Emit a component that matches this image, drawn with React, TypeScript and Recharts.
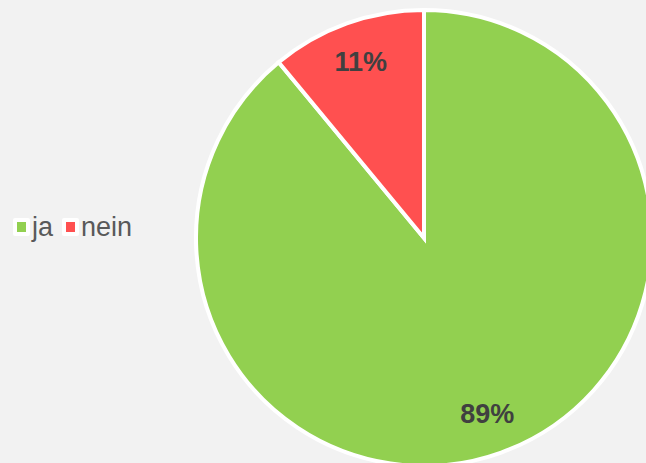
import React from "react";
import { PieChart, Pie, Cell } from "recharts";

const categories = ["ja", "nein"];
const values = [89, 11];
const colors = ["#92d050", "#ff5050"];

const data = categories.map((name, i) => ({ name, value: values[i] }));

const RADIAN = Math.PI / 180;

const renderLabel = (props: any) => {
  const { cx, cy, midAngle, outerRadius, percent } = props;
  const r = outerRadius * 0.82;
  const x = cx + r * Math.cos(-midAngle * RADIAN);
  const y = cy + r * Math.sin(-midAngle * RADIAN);
  return (
    <text
      x={x}
      y={y}
      fill="#404040"
      textAnchor="middle"
      dominantBaseline="central"
      fontFamily="Liberation Sans, Arial, sans-serif"
      fontWeight="bold"
      fontSize={27}
    >
      {`${Math.round(percent * 100)}%`}
    </text>
  );
};

export default function App() {
  return (
    <div style={{ position: "absolute", left: 0, top: 0, width: 646, height: 463, background: "#f2f2f2", overflow: "hidden" }}>
      <PieChart width={646} height={463} margin={{ top: 0, right: 0, bottom: 0, left: 0 }}>
        <Pie
          data={data}
          dataKey="value"
          nameKey="name"
          cx={424}
          cy={238}
          outerRadius={228}
          startAngle={90}
          endAngle={-270}
          stroke="#ffffff"
          strokeWidth={4}
          label={renderLabel}
          labelLine={false}
          isAnimationActive={false}
        >
          {data.map((d, i) => (
            <Cell key={d.name} fill={colors[i]} />
          ))}
        </Pie>
      </PieChart>
      <div
        style={{
          position: "absolute",
          left: 13,
          top: 211,
          display: "flex",
          alignItems: "center",
          fontFamily: "Liberation Sans, Arial, sans-serif",
          fontSize: 27,
          color: "#595959",
          lineHeight: "32px",
        }}
      >
        {data.map((d, i) => (
          <div key={d.name} style={{ display: "flex", alignItems: "center", marginRight: 9 }}>
            <span
              style={{
                display: "inline-block",
                width: 9,
                height: 10,
                background: colors[i],
                border: "4px solid #fff",
                borderRadius: 2,
                marginRight: 2,
              }}
            />
            <span>{d.name}</span>
          </div>
        ))}
      </div>
    </div>
  );
}
